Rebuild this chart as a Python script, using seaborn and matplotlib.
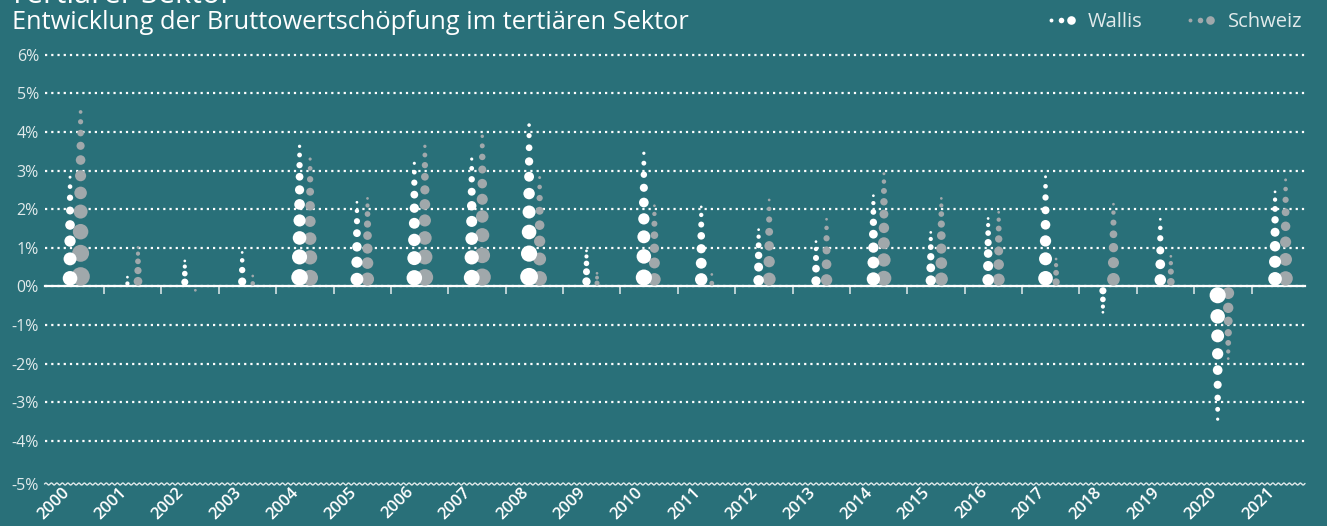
import numpy as np
import pandas as pd
import seaborn as sns
import matplotlib.pyplot as plt
from matplotlib.lines import Line2D
from matplotlib.legend_handler import HandlerTuple
from matplotlib.transforms import ScaledTranslation

# Bruttowertschöpfung tertiärer Sektor, Veränderung gegenüber Vorjahr in %
years = [str(y) for y in range(2000, 2022)]
wallis = [2.83, 0.24, 0.66, 0.88, 3.63, 2.18, 3.19, 3.30, 4.18, 0.92, 3.45,
          2.06, 1.47, 1.16, 2.35, 1.40, 1.76, 2.84, -0.67, 1.74, -3.44, 2.45]
schweiz = [4.52, 1.01, -0.10, 0.27, 3.30, 2.28, 3.63, 3.89, 2.82, 0.34, 2.09,
           0.31, 2.24, 1.74, 2.92, 2.28, 1.92, 0.71, 2.13, 0.78, -1.87, 2.76]

BG = '#297079'
WHITE = '#ffffff'
GREY = '#a0a8ab'
TXT = '#e1eaeb'

sns.set_style('white')
plt.rcParams['font.family'] = ['Open Sans', 'DejaVu Sans']

YMIN, YMAX = -5.12, 6.1
W, H = 1327, 526

fig = plt.figure(figsize=(W / 100, H / 100), dpi=100, facecolor=BG)
ax = fig.add_axes([44.5 / W, 42 / H, 1260.5 / W, 433 / H], facecolor=BG)

# Umrechnung Prozentpunkte -> Punkte (für Markergrösse)
pt_per_pct = 433 / (YMAX - YMIN) * 72 / fig.dpi


def dot_column(v):
    """Punktsäule von 0 bis v: grosse Punkte unten, kleiner werdend zur Spitze."""
    a = abs(v)
    sign = 1 if v >= 0 else -1
    n = max(1, int(round(5.3 * np.sqrt(a) - 0.5)))
    big = 0.225 * np.sqrt(a)
    if n == 1:
        return np.array([v]), np.array([big])
    small = min(big, max(0.2 * big, 0.07))
    d = np.linspace(big, small, n)
    pair = (d[:-1] + d[1:]) / 2
    gap = (a - big / 2 - 0.02 - pair.sum()) / (n - 1)
    pos = big / 2 + 0.02 + np.concatenate([[0], np.cumsum(pair + gap)])
    return sign * pos, d


rows = []
for region, values, off in [('Schweiz', schweiz, 0.092), ('Wallis', wallis, -0.092)]:
    for i, v in enumerate(values):
        ys, ds = dot_column(v)
        for y, d in zip(ys, ds):
            rows.append({'Region': region, 'x': i + off, 'y': y, 's': (d * pt_per_pct) ** 2})
dots = pd.DataFrame(rows)

smin, smax = dots['s'].min(), dots['s'].max()
sns.scatterplot(data=dots, x='x', y='y', hue='Region',
                palette={'Wallis': WHITE, 'Schweiz': GREY},
                size='s', sizes=(smin, smax), size_norm=(smin, smax),
                linewidth=0, legend=False, ax=ax, zorder=3)

ax.set_xlim(-0.537, 21.43)
ax.set_ylim(YMIN, YMAX)
ax.set_xlabel('')
ax.set_ylabel('')
for s in ax.spines.values():
    s.set_visible(False)

# y-Achse
yt = list(range(-4, 7))
ax.set_yticks(yt, labels=[f'{t}%' for t in yt])
ax.set_yticks([YMIN], labels=['-5%'], minor=True)
ax.grid(axis='y', which='major', color='white', linestyle=(0, (1, 1.8)), linewidth=1.6)
ax.tick_params(axis='y', which='both', length=0, pad=4, labelsize=11.5, labelcolor=TXT)

# x-Achse
ax.set_xticks(range(len(years)), labels=years)
ax.set_xticks(np.arange(0.5, len(years) - 1), minor=True)
ax.tick_params(axis='x', which='major', length=0, pad=3, labelsize=12, labelcolor='white')
ax.tick_params(axis='x', which='minor', direction='in', length=7, width=1, color=TXT)
shift = ScaledTranslation(-14 / 100, 4 / 100, fig.dpi_scale_trans)
for lab in ax.get_xticklabels():
    lab.set_rotation(45)
    lab.set_ha('right')
    lab.set_rotation_mode('anchor')
    lab.set_fontweight('semibold')
    lab.set_transform(lab.get_transform() + shift)

# Nulllinie mit Ticks nach unten
zero = ax.secondary_xaxis(0, transform=ax.transData)
zero.set_xticks(np.arange(0.5, len(years) - 1))
zero.tick_params(axis='x', length=6, width=1.1, color=TXT, direction='out', labelbottom=False)
zero.spines['bottom'].set_color('white')
zero.spines['bottom'].set_linewidth(1.6)

# gewellte Grundlinie (Achsenbruch)
wx = np.linspace(0, 1, 3000)
wy = (1 / 433) * np.sin(2 * np.pi * wx * 1260 / 5.5)
ax.plot(wx, wy, transform=ax.transAxes, color=TXT, lw=1, clip_on=False)

# Legende
def dots_handle(color):
    return tuple(Line2D([], [], ls='', marker='o', ms=m, mfc=color, mec='none')
                 for m in (2.8, 4.0, 6.2))

ax.legend([dots_handle(WHITE), dots_handle(GREY)], ['Wallis', 'Schweiz'],
          handler_map={tuple: HandlerTuple(ndivide=None, pad=0)}, ncol=2, frameon=False,
          loc='center right', bbox_to_anchor=(1302 / W, 1 - 22 / H), bbox_transform=fig.transFigure,
          borderpad=0, borderaxespad=0, handlelength=1.5, handletextpad=0.6,
          columnspacing=2.1, labelcolor=TXT, fontsize=14.5)

# Titel
fig.text(9 / W, 1 - 3 / H, 'Tertiärer Sektor', fontsize=22, color='white', va='baseline')
fig.text(12 / W, 1 - 29.3 / H, 'Entwicklung der Bruttowertschöpfung im tertiären Sektor',
         fontsize=18.3, color='white', va='baseline')

fig.savefig('out.png', dpi=100, facecolor=BG)
